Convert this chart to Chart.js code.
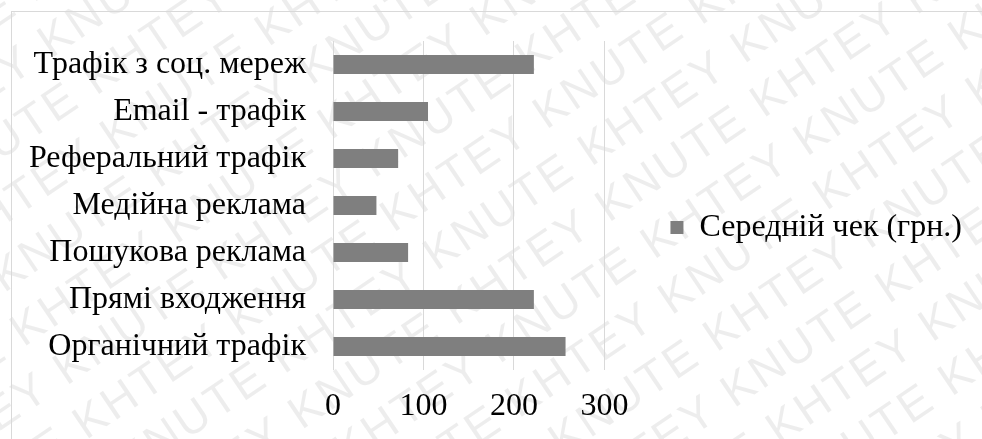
<!DOCTYPE html>
<html>
<head>
<meta charset="utf-8">
<script src="https://cdn.jsdelivr.net/npm/chart.js@4.4.1/dist/chart.umd.min.js"></script>
<style>
  html, body { margin: 0; padding: 0; background: #fff; overflow: hidden; }
  #wrap { width: 982px; height: 439px; }
</style>
</head>
<body>
<div id="wrap"><canvas id="myChart" width="982" height="439"></canvas></div>
<script>
// traffic sources, top to bottom
var categories = [
    "Трафік з соц. мереж",
    "Email - трафік",
    "Реферальний трафік",
    "Медійна реклама",
    "Пошукова реклама",
    "Прямі входження",
    "Органічний трафік"
];
var avgCheck = [222, 105, 72, 48, 83, 222, 257];
var xTicks = [0, 100, 200, 300];
var seriesLabel = "Середній чек (грн.)";
var watermarkText = "KHTEY KNUTE ";

var SERIF = '"Liberation Serif", "Times New Roman", serif';

// white page, faint diagonal watermark and the outer frame
var backdrop = {
    id: 'backdrop',
    beforeDraw: function (chart) {
        var ctx = chart.ctx;
        ctx.save();
        ctx.fillStyle = '#fff';
        ctx.fillRect(0, 0, chart.width, chart.height);

        ctx.save();
        ctx.translate(chart.width / 2, chart.height / 2);
        ctx.rotate(-34 * Math.PI / 180);
        ctx.font = '46px "Liberation Sans", Arial, sans-serif';
        ctx.letterSpacing = '3px';
        ctx.fillStyle = 'rgba(0,0,0,0.07)';
        ctx.textBaseline = 'middle';
        var line = watermarkText.repeat(10);
        for (var r = -8; r <= 8; r++) {
            ctx.fillText(line, -1000 + Math.abs(r % 2) * 170, r * 56);
        }
        ctx.restore();

        ctx.strokeStyle = '#d9d9d9';
        ctx.lineWidth = 1;
        ctx.strokeRect(11.5, 11.5, chart.width + 50, chart.height + 50);
        ctx.restore();
    }
};

var myChart = new Chart(document.getElementById("myChart"), {
    type: 'bar',
    data: {
        labels: categories,
        datasets: [{
            label: seriesLabel,
            data: avgCheck,
            backgroundColor: '#7f7f7f',
            borderWidth: 0,
            categoryPercentage: 1.0,
            barPercentage: 0.4
        }]
    },
    options: {
        indexAxis: 'y',
        responsive: false,
        animation: false,
        layout: { padding: { top: 35, bottom: 19, left: 0, right: 10 } },
        plugins: {
            tooltip: { enabled: false },
            legend: {
                position: 'right',
                align: 'center',
                maxWidth: 600,
                labels: {
                    color: '#000',
                    font: { family: SERIF, size: 32 },
                    boxWidth: 13,
                    boxHeight: 13,
                    padding: 66
                }
            }
        },
        scales: {
            x: {
                min: xTicks[0],
                max: xTicks[xTicks.length - 1],
                ticks: {
                    stepSize: xTicks[1] - xTicks[0],
                    color: '#000',
                    font: { family: SERIF, size: 32 },
                    padding: 17,
                    maxRotation: 0
                },
                grid: { color: '#d9d9d9', lineWidth: 1, drawTicks: false },
                border: { display: false },
                afterFit: function (scale) { scale.height = 50; }
            },
            y: {
                ticks: {
                    color: '#000',
                    font: { family: SERIF, size: 32 },
                    padding: 27
                },
                grid: { display: false, drawTicks: false },
                border: { display: false },
                afterFit: function (scale) {
                    // fixed label column; plot starts a bit below the legend box
                    scale.width = 333;
                    scale.paddingTop = 41;
                    scale.paddingBottom = 0;
                }
            }
        }
    },
    plugins: [backdrop]
});
</script>
</body>
</html>
